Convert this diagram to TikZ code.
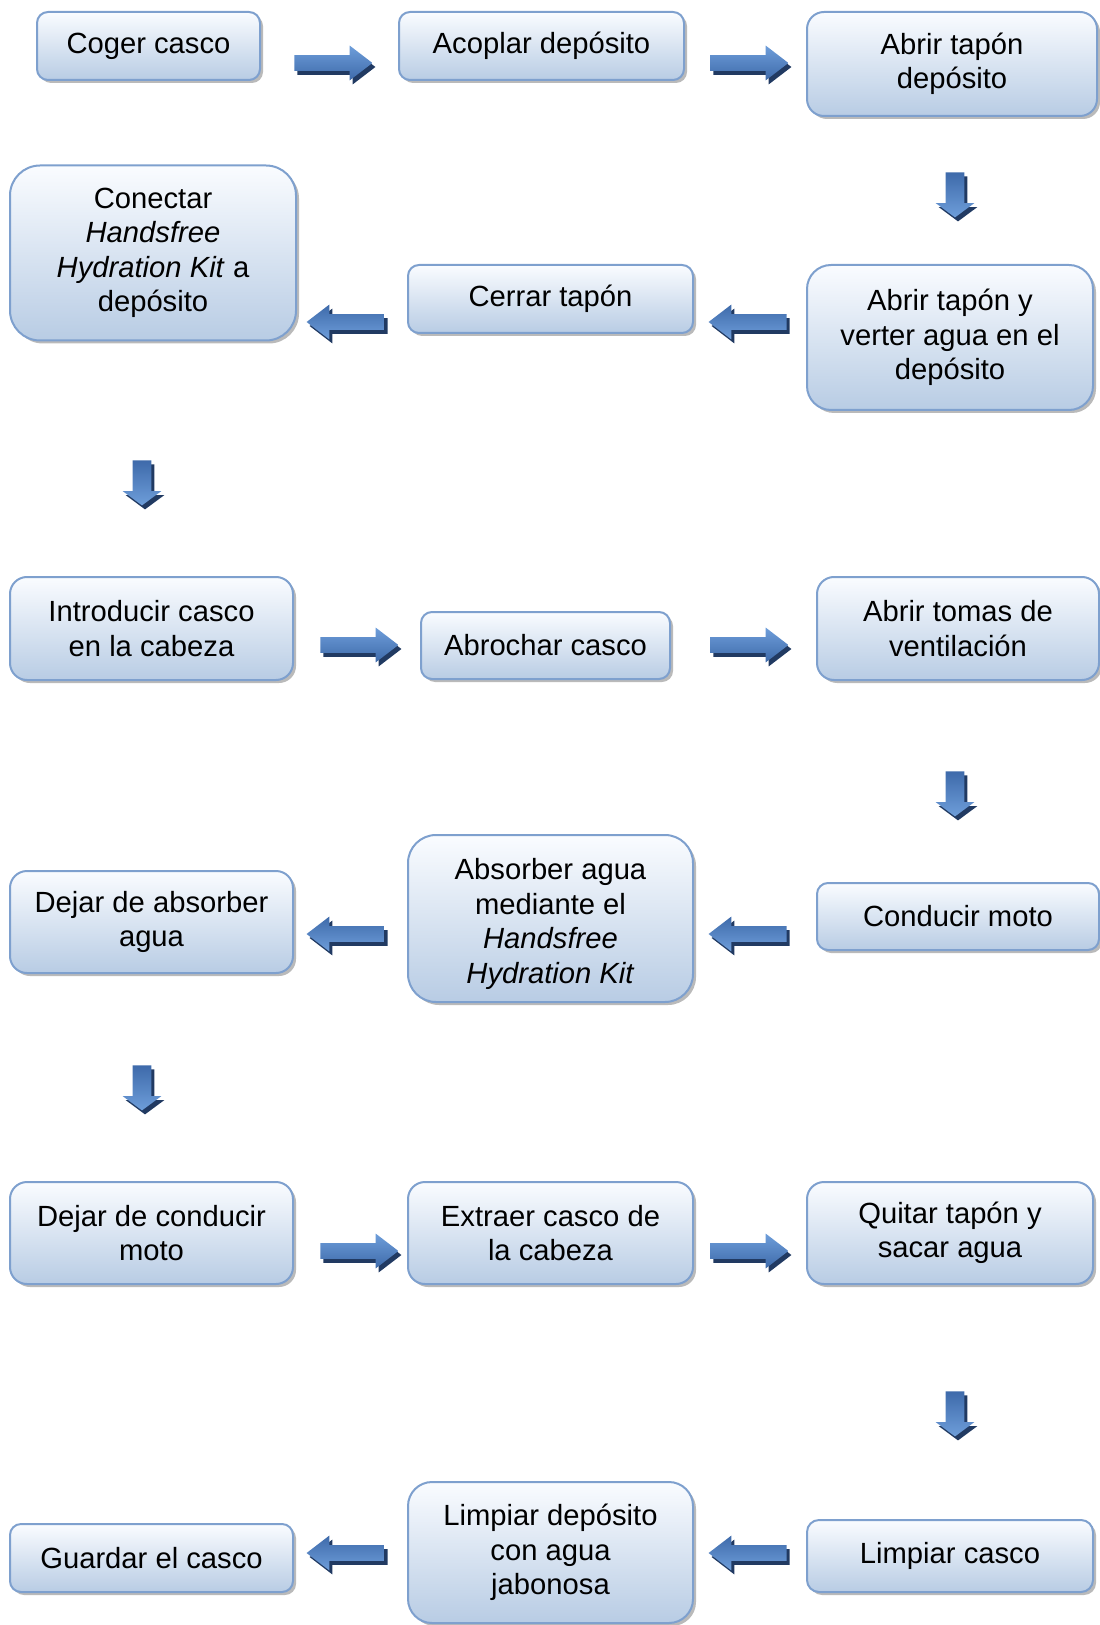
\documentclass[tikz,border=0pt]{standalone}
\usepackage{fontspec}
\setmainfont{Liberation Sans}
\usetikzlibrary{shapes.arrows,shadows}

\definecolor{boxline}{RGB}{126,160,206}
\definecolor{boxtop}{RGB}{250,252,255}
\definecolor{boxbottom}{RGB}{184,204,228}
\definecolor{arrlight}{RGB}{110,158,218}
\definecolor{arrdark}{RGB}{62,106,170}
\definecolor{arrshadow}{RGB}{33,58,98}

\tikzset{
  stepbox/.style={rectangle,rounded corners=#1,draw=boxline,line width=1pt,
    top color=boxtop,bottom color=boxbottom,align=center,inner sep=0pt,
    font=\fontsize{14.6}{17.2}\selectfont,
    drop shadow={shadow xshift=1.5pt,shadow yshift=-1.5pt,fill=black!45,opacity=.6}},
  stepbox/.default=5.5pt,
  blockarrow/.style={single arrow,inner xsep=0pt,draw=none,anchor=tail,
    drop shadow={shadow xshift=1.5pt,shadow yshift=-2pt,fill=arrshadow,opacity=1}},
  rarrow/.style={blockarrow,minimum height=39pt,minimum width=17pt,inner ysep=3.75pt,
    single arrow head extend=4.75pt,single arrow tip angle=75,
    top color=arrlight,bottom color=arrdark},
  larrow/.style={rarrow,rotate=180,top color=arrdark,bottom color=arrlight},
  darrow/.style={blockarrow,rotate=-90,minimum height=22.5pt,minimum width=19pt,inner ysep=4.5pt,
    single arrow head extend=5pt,single arrow tip angle=107,
    top color=arrdark,bottom color=arrlight}
}

\begin{document}
\begin{tikzpicture}[x=0.5pt,y=-0.5pt]
  \useasboundingbox (0,0) rectangle (1099,1625);

  % fila 1
  \node[stepbox,minimum width=111.5pt,minimum height=34pt] (coger) at (148.5,46) {Coger casco};
  \node[stepbox,minimum width=142.5pt,minimum height=34pt] (acoplar) at (541.5,46) {Acoplar depósito};
  \node[stepbox=8.5pt,minimum width=145pt,minimum height=52pt] (abrirtapon) at (952,64) {Abrir tapón\\depósito};

  % fila 2
  \node[stepbox=12pt,minimum width=143pt,minimum height=72.5pt] (verter) at (950,337.5) {Abrir tapón y\\verter agua en el\\depósito};
  \node[stepbox,minimum width=142.5pt,minimum height=34pt] (cerrar) at (550.5,299) {Cerrar tapón};
  \node[stepbox=15pt,minimum width=143pt,minimum height=87.5pt] (conectar) at (153,253) {Conectar\\\textit{Handsfree}\\\textit{Hydration Kit} a\\depósito};

  % fila 3
  \node[stepbox=8.5pt,minimum width=141.5pt,minimum height=51.5pt] (introducir) at (151.5,628.5) {Introducir casco\\en la cabeza};
  \node[stepbox,minimum width=124.5pt,minimum height=33.5pt] (abrochar) at (545.5,645.5) {Abrochar casco};
  \node[stepbox=8.5pt,minimum width=141pt,minimum height=51.5pt] (tomas) at (958,628.5) {Abrir tomas de\\ventilación};

  % fila 4
  \node[stepbox,minimum width=141pt,minimum height=33.5pt] (conducir) at (958,916.5) {Conducir moto};
  \node[stepbox=14pt,minimum width=142.5pt,minimum height=83.5pt] (absorber) at (550.5,918.5) {\rule{0pt}{16pt}Absorber agua\\mediante el\\\textit{Handsfree}\\\textit{Hydration Kit}};
  \node[stepbox=8.5pt,minimum width=141.5pt,minimum height=51pt] (dejarabs) at (151.5,922) {Dejar de absorber\\agua};

  % fila 5
  \node[stepbox=8.5pt,minimum width=141.5pt,minimum height=51pt] (dejarcond) at (151.5,1233) {Dejar de conducir\\moto};
  \node[stepbox=8.5pt,minimum width=142.5pt,minimum height=51pt] (extraer) at (550.5,1233) {Extraer casco de\\la cabeza};
  \node[stepbox=8.5pt,minimum width=143pt,minimum height=51pt] (quitar) at (950,1233) {Quitar tapón y\\sacar agua};

  % fila 6
  \node[stepbox=6pt,minimum width=143pt,minimum height=36pt] (limpcasco) at (950,1556) {Limpiar casco};
  \node[stepbox=12pt,minimum width=142.5pt,minimum height=70.5pt] (limpdep) at (550.5,1552.5) {Limpiar depósito\\con agua\\jabonosa};
  \node[stepbox,minimum width=141.5pt,minimum height=34pt] (guardar) at (151.5,1558) {Guardar el casco};

  % flechas (posicion de la cola)
  \foreach \n/\x/\y in {r1/294/63,r2/710/63,r3/320/645,r4/710/645,r5/320/1251,r6/710/1251}
    \node[rarrow] (\n) at (\x,\y) {};
  \foreach \n/\x/\y in {l1/385/322,l2/787/322,l3/385/934,l4/787/934,l5/385/1553,l6/787/1553}
    \node[larrow] (\n) at (\x,\y) {};
  \foreach \n/\x/\y in {d1/955/172,d2/142/460,d3/955/771,d4/142/1065,d5/955/1391}
    \node[darrow] (\n) at (\x,\y) {};

\end{tikzpicture}
\end{document}
